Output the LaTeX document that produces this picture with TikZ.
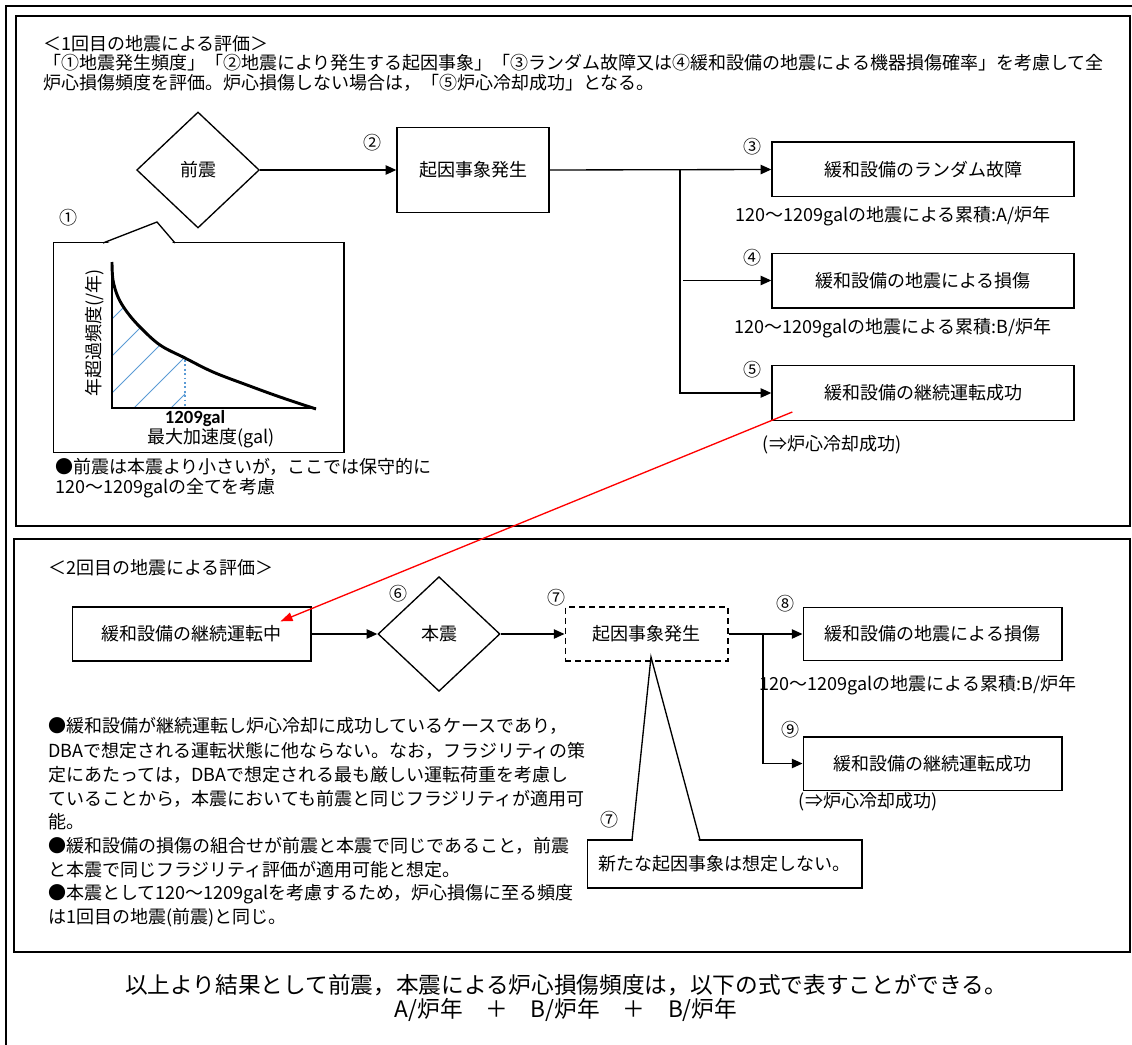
\documentclass[tikz,border=0pt]{standalone}
\usepackage{fontspec}
\setmainfont{Noto Sans CJK JP}
\newfontfamily\calfont{Carlito}
\usetikzlibrary{shapes.geometric,arrows.meta,calc}
\definecolor{hatchc}{RGB}{91,155,213}
\begin{document}
\begin{tikzpicture}[x=0.75pt,y=-0.75pt,
  tx/.style={inner sep=0pt, font=\fontsize{13.5}{16}\selectfont},
  bigtx/.style={inner sep=0pt, font=\fontsize{17}{20}\selectfont},
  box/.style={draw, line width=1pt, inner sep=0pt, font=\fontsize{13.5}{16}\selectfont},
  dia/.style={draw, diamond, line width=1pt, inner sep=0pt, font=\fontsize{13.5}{16}\selectfont},
  ln/.style={line width=1pt},
  arr/.style={line width=1pt, -{Triangle[length=8pt,width=7pt]}},
  redarr/.style={red, line width=1pt, -{Triangle[length=9pt,width=6.5pt]}}
]
\useasboundingbox (0,0) rectangle (1132,1045);
% frames
\draw[line width=1.2pt] (6,1045) -- (6,6) -- (1132,6);
\draw[line width=1.1pt] (16,16) rectangle (1130,526);
\draw[line width=1.1pt] (14,539) rectangle (1130,952);

% ---------- section 1 ----------
\node[tx, anchor=west] (t1) at (43,44) {＜1回目の地震による評価＞};
\node[tx, anchor=west] (t2) at (43,63) {「①地震発生頻度」「②地震により発生する起因事象」「③ランダム故障又は④緩和設備の地震による機器損傷確率」を考慮して全};
\node[tx, anchor=west] (t3) at (43,83) {炉心損傷頻度を評価。炉心損傷しない場合は，「⑤炉心冷却成功」となる。};

\node[dia, minimum width=92pt, minimum height=87pt] (d1) at (198,170) {前震};
\node[box, minimum width=114pt, minimum height=64pt] (b2) at (473,170) {起因事象発生};
\node[box, minimum width=226.5pt, minimum height=41pt] (b3) at (923,169.5) {緩和設備のランダム故障};
\node[box, minimum width=226.5pt, minimum height=41pt] (b4) at (923,280.5) {緩和設備の地震による損傷};
\node[box, minimum width=226.5pt, minimum height=41pt] (b5) at (923,393) {緩和設備の継続運転成功};

\node[tx] (n2) at (372,143) {②};
\node[tx] (n3) at (752,147) {③};
\node[tx] (n4) at (752,258) {④};
\node[tx] (n5) at (752,370) {⑤};

\coordinate (j1) at (680,170);
\coordinate (j4) at (683,280.5);
\draw[arr] (d1.east) -- (b2.west);
\draw[arr] (b2.east) -- (b3.west);
\draw[arr] (j1) |- (b5.west);
\draw[arr] (j4) -- (b4.west);

\node[tx] (c3) at (893,216) {120～1209galの地震による累積:A/炉年};
\node[tx] (c4) at (893,328) {120～1209galの地震による累積:B/炉年};
\node[tx] (c5) at (832,445) {(⇒炉心冷却成功)};

% graph callout
\node[tx] (n1) at (68,218) {①};
\node[draw, line width=1pt, minimum width=218pt, minimum height=157pt, inner sep=0pt] (gbox) at (198.5,347.5) {};
\fill[white] (104,244.5) -- (157,222) -- (174,244.5) -- cycle;
\draw[ln] (103,243) -- (157,222) -- (175,243);

% hatching
\begin{scope}
\clip plot[smooth, tension=0.6] coordinates {(112,262) (113,280) (118,297) (127,312) (140,327) (160,345) (185,358)} -- (185,408) -- (112,408) -- cycle;
\foreach \c in {23,60,97,134,171} {
  \draw[hatchc, line width=0.6pt] (\c,408) -- ++(160,-160);
}
\end{scope}
\draw[hatchc, line width=1.3pt, dotted] (185,360) -- (185,408);
\draw[line width=1pt] (112,262) -- (112,408) -- (316,408);
\draw[line width=2.2pt] plot[smooth, tension=0.6] coordinates {(112,262) (113,280) (118,297) (127,312) (140,327) (160,345) (185,358) (213,372) (247,385) (280,397) (316,409)};

\node[inner sep=0pt, font=\calfont\bfseries\fontsize{14}{16}\selectfont] (gl1) at (195,419) {1209gal};
\node[tx] (gl2) at (211,438) {最大加速度(gal)};
\node[tx, rotate=90] (gl3) at (95,333) {年超過頻度(/年)};

\node[tx, anchor=west] (g1) at (55,467) {●前震は本震より小さいが，ここでは保守的に};
\node[tx, anchor=west] (g2) at (55,488) {120～1209galの全てを考慮};

% ---------- section 2 ----------
\node[tx, anchor=west] (t4) at (48,568) {＜2回目の地震による評価＞};
\node[box, minimum width=179pt, minimum height=40.5pt] (cont) at (191.5,634) {緩和設備の継続運転中};
\node[dia, minimum width=91.5pt, minimum height=86pt] (d2) at (439,634) {本震};
\node[box, dash pattern=on 4.5pt off 3pt, minimum width=122pt, minimum height=40.5pt] (b7) at (646.5,634) {起因事象発生};
\node[box, minimum width=194pt, minimum height=40pt] (b8) at (932.5,634) {緩和設備の地震による損傷};
\node[box, minimum width=194pt, minimum height=40pt] (b9) at (932.5,763.5) {緩和設備の継続運転成功};

\node[tx] (n6) at (398,594) {⑥};
\node[tx] (n7) at (556,598) {⑦};
\node[tx] (n8) at (785,604) {⑧};
\node[tx] (n9) at (790,730) {⑨};

\coordinate (j2) at (763,634);
\draw[arr] (cont.east) -- (d2.west);
\draw[arr] (d2.east) -- (b7.west);
\draw[arr] (b7.east) -- (b8.west);
\draw[arr] (j2) |- (b9.west);

\node[tx] (c8) at (918,685) {120～1209galの地震による累積:B/炉年};
\node[tx] (c9) at (868,802) {(⇒炉心冷却成功)};

% callout 2
\node[box, minimum width=206pt, minimum height=36pt] (cb) at (724.5,864) {新たな起因事象は想定しない。};
\coordinate (tip) at (651,657);
\fill[white] (633,841.5) -- (tip) -- (699,841.5) -- cycle;
\draw[ln] (632,840) -- (tip) -- (700,840);
\node[tx] (n7b) at (609,820) {⑦};

% bullets section 2
\node[tx, anchor=west] (s1) at (48,726) {●緩和設備が継続運転し炉心冷却に成功しているケースであり，};
\node[tx, anchor=west] (s2) at (48,751) {DBAで想定される運転状態に他ならない。なお，フラジリティの策};
\node[tx, anchor=west] (s3) at (48,775) {定にあたっては，DBAで想定される最も厳しい運転荷重を考慮し};
\node[tx, anchor=west] (s4) at (48,799) {ていることから，本震においても前震と同じフラジリティが適用可};
\node[tx, anchor=west] (s5) at (48,822) {能。};
\node[tx, anchor=west] (s6) at (48,846) {●緩和設備の損傷の組合せが前震と本震で同じであること，前震};
\node[tx, anchor=west] (s7) at (48,870) {と本震で同じフラジリティ評価が適用可能と想定。};
\node[tx, anchor=west] (s8) at (48,894) {●本震として120～1209galを考慮するため，炉心損傷に至る頻度};
\node[tx, anchor=west] (s9) at (48,918) {は1回目の地震(前震)と同じ。};

% red connector
\coordinate (rs) at ($(b5.south west)+(21,-9)$);
\coordinate (re) at ($(cont.north east)+(-31,15)$);
\draw[redarr] (rs) -- (re);

% bottom
\node[bigtx] (f1) at (566,985) {以上より結果として前震，本震による炉心損傷頻度は，以下の式で表すことができる。};
\node[bigtx] (f2) at (566,1010) {A/炉年　＋　B/炉年　＋　B/炉年};
\end{tikzpicture}
\end{document}
